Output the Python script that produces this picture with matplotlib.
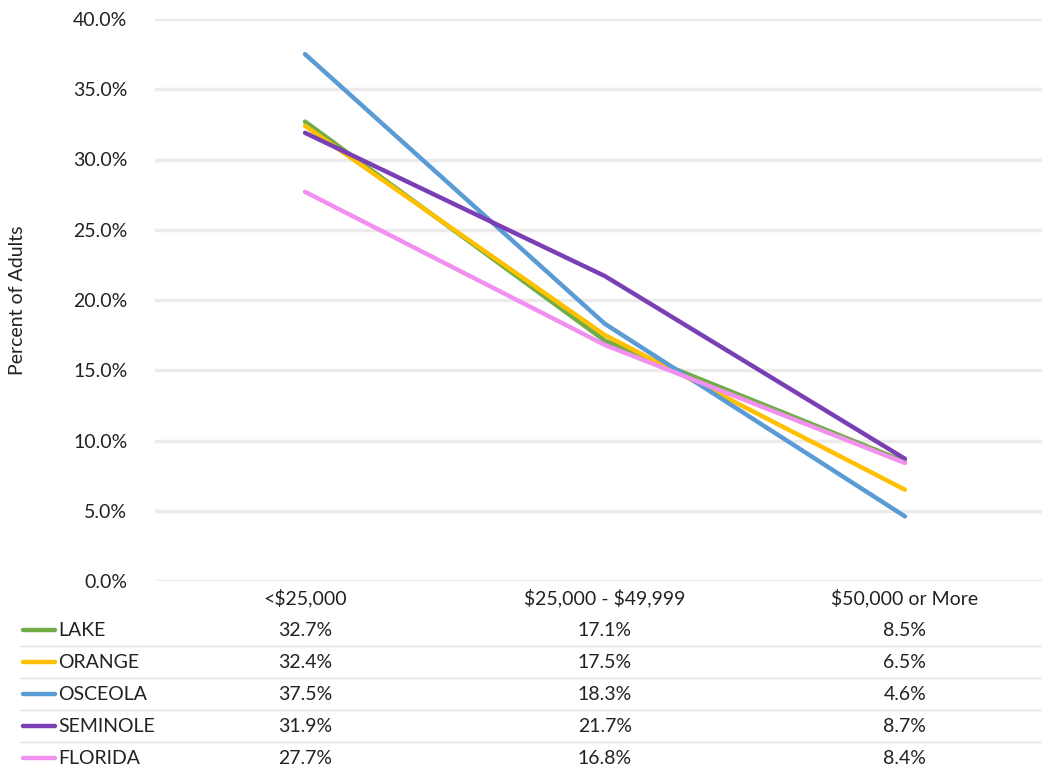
import numpy as np
import matplotlib.pyplot as plt
from matplotlib.transforms import blended_transform_factory
from matplotlib.lines import Line2D

plt.rcParams['font.family'] = ['Lato', 'DejaVu Sans']
plt.rcParams['text.parse_math'] = False

categories = ["<$25,000", "$25,000 - $49,999", "$50,000 or More"]
series_names = ["LAKE", "ORANGE", "OSCEOLA", "SEMINOLE", "FLORIDA"]
lake = [32.7, 17.1, 8.5]
orange = [32.4, 17.5, 6.5]
osceola = [37.5, 18.3, 4.6]
seminole = [31.9, 21.7, 8.7]
florida = [27.7, 16.8, 8.4]
colors = ["#70AD47", "#FFC000", "#5B9BD5", "#7B3FB5", "#F290F0"]

values = [lake, orange, osceola, seminole, florida]

FS = 14
TXT = "#222222"

fig = plt.figure(figsize=(10.42, 7.7), dpi=100)
# axes box in pixels: left 155, right 1042, top 19, bottom 581
W, H = 1042, 770
ax = fig.add_axes([155 / W, 1 - 581 / H, (1042 - 155) / W, (581 - 19) / H])

x = np.arange(len(categories))
for name, vals, c in zip(series_names, values, colors):
    ax.plot(x, vals, color=c, linewidth=3.2, solid_capstyle='round', zorder=3)

ax.set_xlim(-0.5, 2.457)
ax.set_ylim(0, 40)
yt = np.arange(0, 41, 5)
ax.set_yticks(yt)
ax.set_yticklabels([f"{t:.1f}%" for t in yt], fontsize=FS, color=TXT)
ax.set_xticks([])
for s in ax.spines.values():
    s.set_visible(False)
ax.tick_params(axis='y', length=0, pad=20)
ax.grid(axis='y', color="#EBEBEB", linewidth=2.5, zorder=0)
ax.axhline(0, color="#D9D9D9", linewidth=2.2, zorder=1)

fig.text(18 / W, 1 - 300 / H, "Percent of Adults", rotation=90, ha='center', va='center',
         fontsize=FS, color=TXT)

# data table under the chart
tr = blended_transform_factory(ax.transData, fig.transFigure)
header_y = 598
for xi, cat in zip(x, categories):
    ax.text(xi, 1 - header_y / H, cat, transform=tr, ha='center', va='center',
            fontsize=FS, color=TXT, clip_on=False)

row_y = [630, 662, 694, 726, 758]
for ry, name, vals, c in zip(row_y, series_names, values, colors):
    fig.add_artist(Line2D([23 / W, 55 / W], [1 - ry / H] * 2, color=c, linewidth=3.2,
                          solid_capstyle='round'))
    fig.text(58 / W, 1 - ry / H, name, ha='left', va='center', fontsize=FS, color=TXT)
    for xi, v in zip(x, vals):
        ax.text(xi, 1 - ry / H, f"{v:.1f}%", transform=tr, ha='center', va='center',
                fontsize=FS, color=TXT, clip_on=False)

for ry in row_y[:-1]:
    sep = 1 - (ry + 16) / H
    fig.add_artist(Line2D([20 / W, 1.0], [sep, sep], color="#E3E3E3", linewidth=1.0))

fig.savefig("out.png", dpi=100, facecolor="white")
